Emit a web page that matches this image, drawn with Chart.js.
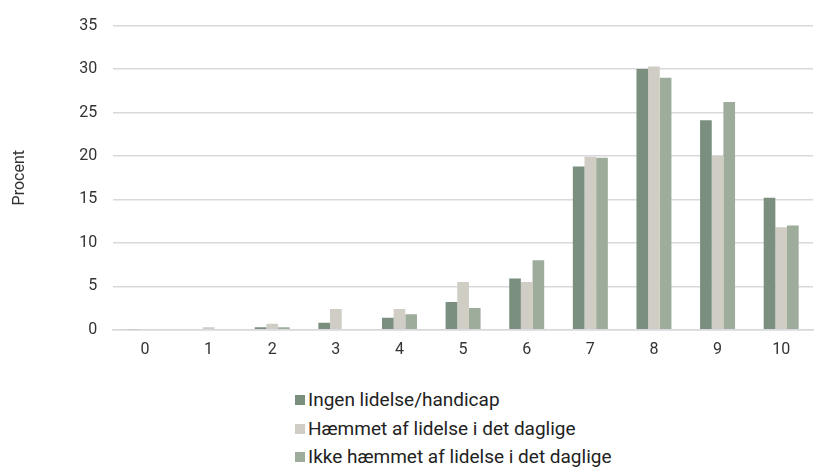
<!DOCTYPE html>
<html>
<head>
<meta charset="utf-8">
<script src="https://cdn.jsdelivr.net/npm/chart.js@4"></script>
<style>
  body { margin: 0; background: #fff; font-family: Roboto, sans-serif; }
  #wrap { position: relative; width: 817px; height: 467px; }
  #legend { position: absolute; left: 295px; top: 386px; list-style: none; margin: 0; padding: 0; }
  #legend li { font-size: 19px; color: #222; height: 28.5px; line-height: 28px; white-space: nowrap; }
  #legend span { display: inline-block; width: 10px; height: 10px; margin-right: 3px; vertical-align: 1px; }
</style>
</head>
<body>
<div id="wrap">
  <canvas id="myChart" width="817" height="363"></canvas>
  <ul id="legend"></ul>
</div>
<script>
// Categories and series
const categories = ['0', '1', '2', '3', '4', '5', '6', '7', '8', '9', '10'];
const seriesNames = ['Ingen lidelse/handicap', 'Hæmmet af lidelse i det daglige', 'Ikke hæmmet af lidelse i det daglige'];
const ingen = [0.05, 0.1, 0.3, 0.8, 1.4, 3.2, 5.9, 18.8, 30.0, 24.1, 15.2];
const haemmet = [0, 0.3, 0.7, 2.4, 2.4, 5.5, 5.5, 19.9, 30.3, 20.0, 11.8];
const ikkeHaemmet = [0, 0, 0.3, 0, 1.8, 2.5, 8.0, 19.8, 29.0, 26.2, 12.0];
const colors = ['#7b8f7e', '#d0cdc5', '#9eac9c'];

const textColor = '#333';
const gridColor = '#d9d9dd';

const ctx = document.getElementById('myChart').getContext('2d');
const chart = new Chart(ctx, {
    type: 'bar',
    data: {
        labels: categories,
        datasets: [ingen, haemmet, ikkeHaemmet].map((values, i) => ({
            label: seriesNames[i],
            data: values,
            backgroundColor: colors[i],
            borderWidth: 0,
            categoryPercentage: 0.55,
            barPercentage: 1.0
        }))
    },
    options: {
        responsive: false,
        animation: false,
        layout: { autoPadding: false, padding: { top: 19, right: 4, left: 6 } },
        scales: {
            y: {
                min: 0,
                max: 35,
                ticks: { stepSize: 5, color: textColor, padding: 16, font: { family: 'Roboto', size: 16 } },
                grid: { color: gridColor, lineWidth: 1.5, drawTicks: false },
                border: { display: false },
                title: {
                    display: true,
                    text: 'Procent',
                    color: textColor,
                    font: { family: 'Roboto', size: 16 },
                    padding: { bottom: 34 }
                }
            },
            x: {
                ticks: { color: textColor, padding: 3, font: { family: 'Roboto', size: 16 } },
                grid: { display: false },
                border: { color: gridColor, width: 1.5 }
            }
        },
        plugins: {
            legend: { display: false },
            tooltip: { enabled: false }
        }
    }
});

// Vertical legend below the chart
const legend = document.getElementById('legend');
chart.data.datasets.forEach(ds => {
    const li = document.createElement('li');
    li.innerHTML = `<span style="background:${ds.backgroundColor}"></span>${ds.label}`;
    legend.appendChild(li);
});
</script>
</body>
</html>
